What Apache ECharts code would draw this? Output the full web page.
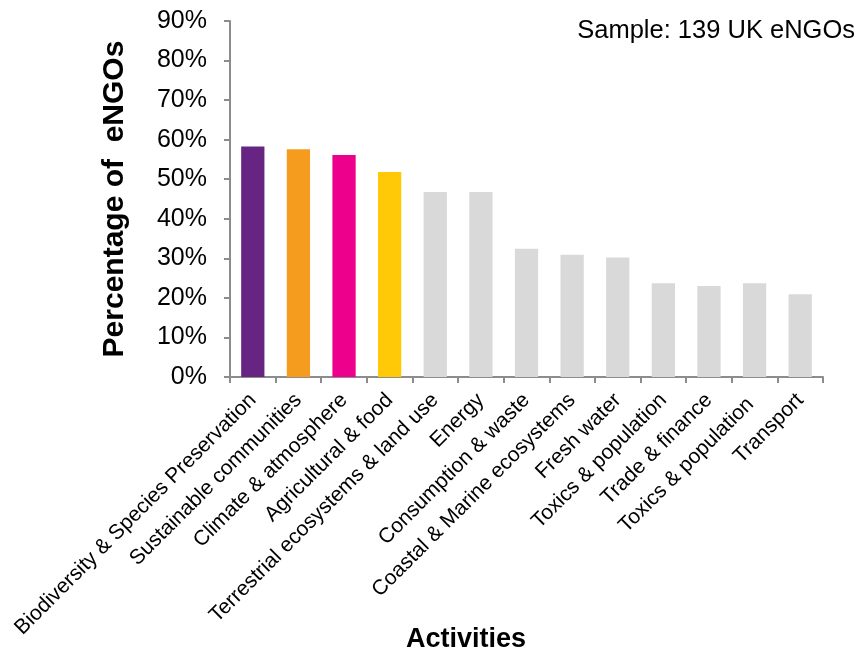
<!DOCTYPE html>
<html>
<head>
<meta charset="utf-8">
<script src="https://cdn.jsdelivr.net/npm/echarts@6/dist/echarts.min.js"></script>
<style>
  html, body { margin: 0; padding: 0; background: #fff; }
  #chart { width: 867px; height: 653px; }
</style>
</head>
<body>
<div id="chart"></div>
<script>
// Share of UK environmental NGOs working on each activity (percent)
const categories = [
  'Biodiversity & Species Preservation',
  'Sustainable communities',
  'Climate & atmosphere',
  'Agricultural & food',
  'Terrestrial ecosystems & land use',
  'Energy',
  'Consumption & waste',
  'Coastal & Marine ecosystems',
  'Fresh water',
  'Toxics & population',
  'Trade & finance',
  'Toxics & population ',
  'Transport'
];
const percentages = [58.3, 57.6, 56.1, 51.8, 46.8, 46.8, 32.4, 30.9, 30.2, 23.7, 23.0, 23.7, 20.9];
const barColors = ['#662483', '#F59C1F', '#EC008C', '#FFC907',
  '#D9D9D9', '#D9D9D9', '#D9D9D9', '#D9D9D9', '#D9D9D9',
  '#D9D9D9', '#D9D9D9', '#D9D9D9', '#D9D9D9'];
const yTicks = { min: 0, max: 90, interval: 10 };

const FONT = 'Liberation Sans, Arial, sans-serif';
const axisGray = '#8c8c8c';

const chart = echarts.init(document.getElementById('chart'), null, { renderer: 'canvas' });

chart.setOption({
  animation: false,
  backgroundColor: '#ffffff',
  grid: { left: 230, right: 44, top: 21, bottom: 276, containLabel: false },
  xAxis: {
    type: 'category',
    data: categories,
    axisLine: { show: true, lineStyle: { color: axisGray, width: 2 } },
    axisTick: { show: true, alignWithLabel: false, length: 6, lineStyle: { color: axisGray, width: 2 } },
    axisLabel: {
      interval: 0,
      rotate: 45,
      margin: 20,
      color: '#000',
      fontFamily: FONT,
      fontSize: 21
    },
    splitLine: { show: false }
  },
  yAxis: {
    type: 'value',
    min: yTicks.min,
    max: yTicks.max,
    interval: yTicks.interval,
    name: 'Percentage of  eNGOs',
    nameLocation: 'middle',
    nameGap: 100,
    nameTextStyle: { color: '#000', fontFamily: FONT, fontSize: 30, fontWeight: 'bold' },
    axisLine: { show: true, lineStyle: { color: axisGray, width: 2 } },
    axisTick: { show: true, length: 6, lineStyle: { color: axisGray, width: 2 } },
    axisLabel: {
      formatter: v => v + '%',
      color: '#000',
      fontFamily: FONT,
      fontSize: 25,
      margin: 23
    },
    splitLine: { show: false }
  },
  series: [{
    type: 'bar',
    barWidth: '51%',
    data: percentages.map((v, i) => ({ value: v, itemStyle: { color: barColors[i] } }))
  }],
  graphic: [
    {
      type: 'text',
      x: 855, y: 31,
      style: {
        text: 'Sample: 139 UK eNGOs',
        fill: '#000',
        font: '25.5px ' + FONT,
        textAlign: 'right',
        textVerticalAlign: 'middle'
      }
    },
    {
      type: 'text',
      x: 466, y: 640,
      style: {
        text: 'Activities',
        fill: '#000',
        font: 'bold 27px ' + FONT,
        textAlign: 'center',
        textVerticalAlign: 'middle'
      }
    }
  ]
});
</script>
</body>
</html>
